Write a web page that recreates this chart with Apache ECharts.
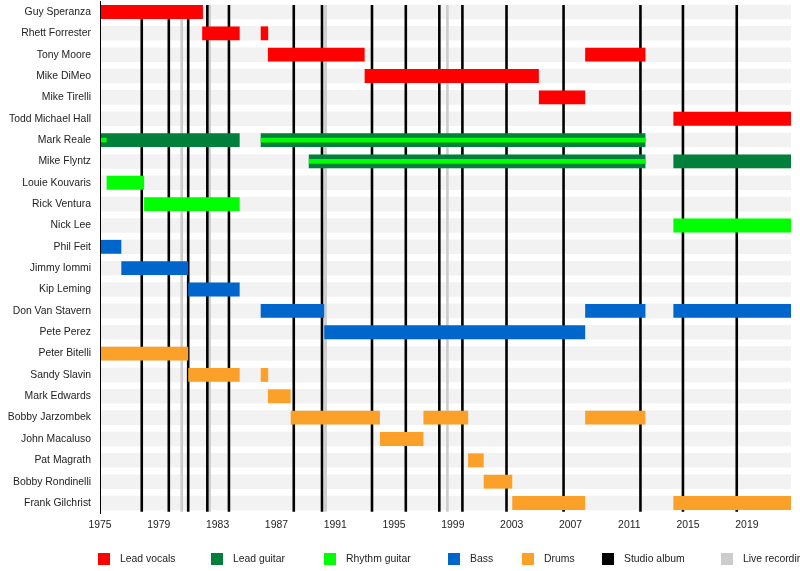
<!DOCTYPE html>
<html>
<head>
<meta charset="utf-8">
<script src="https://cdn.jsdelivr.net/npm/echarts@6/dist/echarts.min.js"></script>
<style>
  html, body { margin: 0; padding: 0; background: #fff; }
  #timeline { width: 800px; height: 571px; }
</style>
</head>
<body>
<div id="timeline"></div>
<script>
// band members, top to bottom
var members = ['Guy Speranza', 'Rhett Forrester', 'Tony Moore', 'Mike DiMeo', 'Mike Tirelli',
  'Todd Michael Hall', 'Mark Reale', 'Mike Flyntz', 'Louie Kouvaris', 'Rick Ventura', 'Nick Lee',
  'Phil Feit', 'Jimmy Iommi', 'Kip Leming', 'Don Van Stavern', 'Pete Perez', 'Peter Bitelli',
  'Sandy Slavin', 'Mark Edwards', 'Bobby Jarzombek', 'John Macaluso', 'Pat Magrath',
  'Bobby Rondinelli', 'Frank Gilchrist'];

// [member, from, to]
var leadVocals = [
  ['Guy Speranza', 1975, 1982.0], ['Rhett Forrester', 1981.95, 1984.5], ['Rhett Forrester', 1985.93, 1986.44],
  ['Tony Moore', 1986.42, 1993.0], ['Tony Moore', 2008.0, 2012.1], ['Mike DiMeo', 1993.0, 2004.85],
  ['Mike Tirelli', 2004.85, 2008.0], ['Todd Michael Hall', 2014.0, 2022]
];
var leadGuitar = [
  ['Mark Reale', 1975, 1984.5], ['Mark Reale', 1985.93, 2012.1],
  ['Mike Flyntz', 1989.2, 2012.1], ['Mike Flyntz', 2014.0, 2022]
];
var rhythmGuitar = [
  ['Louie Kouvaris', 1975.45, 1978.0], ['Rick Ventura', 1978.0, 1984.5], ['Nick Lee', 2014.0, 2022]
];
// rhythm guitar played alongside lead guitar (thin stripe)
var rhythmStripe = [
  ['Mark Reale', 1975, 1975.45], ['Mark Reale', 1985.93, 2012.1], ['Mike Flyntz', 1989.2, 2012.1]
];
var bass = [
  ['Phil Feit', 1975, 1976.45], ['Jimmy Iommi', 1976.45, 1981.0], ['Kip Leming', 1981.0, 1984.5],
  ['Don Van Stavern', 1985.93, 1990.25], ['Don Van Stavern', 2008.0, 2012.1], ['Don Van Stavern', 2014.0, 2022],
  ['Pete Perez', 1990.25, 2008.0]
];
var drums = [
  ['Peter Bitelli', 1975, 1981.0], ['Sandy Slavin', 1981.0, 1984.5], ['Sandy Slavin', 1985.93, 1986.44],
  ['Mark Edwards', 1986.42, 1987.97], ['Bobby Jarzombek', 1987.97, 1994.04], ['Bobby Jarzombek', 1997.0, 2000.04],
  ['Bobby Jarzombek', 2008.0, 2012.1], ['John Macaluso', 1994.04, 1997.0], ['Pat Magrath', 2000.04, 2001.1],
  ['Bobby Rondinelli', 2001.1, 2003.04], ['Frank Gilchrist', 2003.04, 2008.0], ['Frank Gilchrist', 2014.0, 2022]
];

var studioAlbums = [1977.84, 1979.68, 1981.0, 1982.3, 1983.77, 1988.18, 1990.1, 1993.5, 1995.8,
  1998.08, 1999.65, 2002.65, 2006.53, 2011.76, 2014.65, 2018.31];
var liveRecordings = [1980.56, 1982.45, 1990.34, 1998.63];

var yearStart = 1975, yearEnd = 2022;
var FONT = '"Liberation Sans", Arial, sans-serif';
var FS = 10.4;

function spans(list) {
  return list.map(function (d) { return [members.indexOf(d[0]), d[1], d[2]]; });
}

function barRender(ratio) {
  return function (params, api) {
    var row = api.value(0);
    var s = api.coord([api.value(1), row]);
    var e = api.coord([api.value(2), row]);
    var h = api.size([0, 1])[1] * 0.65 * ratio;
    return {
      type: 'rect',
      shape: { x: s[0], y: s[1] - h / 2, width: e[0] - s[0], height: h },
      style: { fill: api.visual('color') }
    };
  };
}

function lineRender(params, api) {
  var cs = params.coordSys;
  var p = api.coord([api.value(0), 0]);
  var h = api.size([0, 1])[1] * 0.65;
  return {
    type: 'line',
    shape: { x1: p[0], y1: p[1] - h / 2, x2: p[0], y2: cs.y + cs.height - 2 },
    style: { stroke: api.visual('color'), lineWidth: 2.6 }
  };
}

function bandRender(params, api) {
  var cs = params.coordSys;
  var p = api.coord([yearStart, api.value(1)]);
  var h = api.size([0, 1])[1] * 0.68;
  return {
    type: 'rect',
    shape: { x: cs.x, y: p[1] - h / 2, width: cs.width, height: h },
    style: { fill: '#f2f2f2' }
  };
}

function barSeries(name, color, list, ratio, z) {
  return {
    type: 'custom', name: name, renderItem: barRender(ratio), z: z,
    itemStyle: { color: color },
    encode: { x: [1, 2], y: 0 },
    data: spans(list)
  };
}

function legendAt(name, left) {
  return {
    data: [name], left: left, top: 553, padding: 0,
    icon: 'rect', itemWidth: 12, itemHeight: 12,
    selectedMode: false,
    textStyle: { fontFamily: FONT, fontSize: FS, color: '#222', padding: [0, 0, 0, 5] }
  };
}

var chart = echarts.init(document.getElementById('timeline'));
chart.setOption({
  animation: false,
  grid: { left: 100, right: 9, top: 1.3, bottom: 57.3, containLabel: false },
  xAxis: {
    type: 'value', min: yearStart, max: yearEnd, interval: 1, offset: -2, z: 10,
    axisLine: { lineStyle: { color: '#000', width: 1 } },
    axisTick: { length: 4, lineStyle: { color: '#000' } },
    splitLine: { show: false },
    axisLabel: {
      margin: 8, fontFamily: FONT, fontSize: FS, color: '#222',
      formatter: function (v) { return (v - yearStart) % 4 === 0 ? String(v) : ''; }
    }
  },
  yAxis: {
    type: 'category', data: members, inverse: true, z: 10,
    axisLine: { show: true, lineStyle: { color: '#000', width: 1 } },
    axisTick: { show: false },
    axisLabel: { margin: 9, fontFamily: FONT, fontSize: FS, color: '#222' }
  },
  legend: [
    legendAt('Lead vocals', 98),
    legendAt('Lead guitar', 211),
    legendAt('Rhythm guitar', 324),
    legendAt('Bass', 448),
    legendAt('Drums', 522),
    legendAt('Studio album', 602),
    legendAt('Live recording', 721)
  ],
  series: [
    {
      type: 'custom', name: 'rows', renderItem: bandRender, z: 1, silent: true,
      encode: { x: 0, y: 1 },
      data: members.map(function (m, i) { return [yearStart, i]; })
    },
    {
      type: 'custom', name: 'Live recording', renderItem: lineRender, z: 2,
      itemStyle: { color: '#cccccc' }, encode: { x: 0, y: 1 },
      data: liveRecordings.map(function (y) { return [y, 0]; })
    },
    {
      type: 'custom', name: 'Studio album', renderItem: lineRender, z: 3,
      itemStyle: { color: '#000000' }, encode: { x: 0, y: 1 },
      data: studioAlbums.map(function (y) { return [y, 0]; })
    },
    barSeries('Lead vocals', '#ff0000', leadVocals, 1, 4),
    barSeries('Lead guitar', '#00803a', leadGuitar, 1, 4),
    barSeries('Rhythm guitar', '#00ff00', rhythmGuitar, 1, 4),
    barSeries('Bass', '#0066cc', bass, 1, 4),
    barSeries('Drums', '#fba12a', drums, 1, 4),
    barSeries('Rhythm guitar', '#00ff00', rhythmStripe, 0.34, 5)
  ]
});
</script>
</body>
</html>
